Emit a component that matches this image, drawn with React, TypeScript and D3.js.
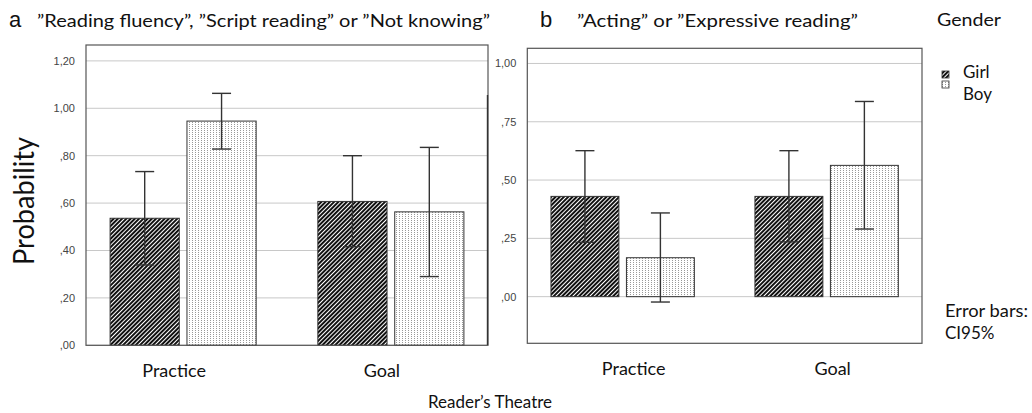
import React from "react";
import { scaleLinear, scaleBand, format } from "d3";

const categories = ["Practice", "Goal"];
const genders = ["Girl", "Boy"];

// panel a: "Reading fluency", "Script reading" or "Not knowing"
const aGirl = [0.536, 0.607];
const aBoy = [0.946, 0.563];
const aGirlLow = [0.339, 0.416];
const aGirlHigh = [0.733, 0.8];
const aBoyLow = [0.828, 0.29];
const aBoyHigh = [1.063, 0.835];
const aTicks = [0, 0.2, 0.4, 0.6, 0.8, 1.0, 1.2];

// panel b: "Acting" or "Expressive reading"
const bGirl = [0.43, 0.43];
const bBoy = [0.167, 0.563];
const bGirlLow = [0.233, 0.235];
const bGirlHigh = [0.626, 0.626];
const bBoyLow = [-0.023, 0.29];
const bBoyHigh = [0.359, 0.837];
const bTicks = [0, 0.25, 0.5, 0.75, 1.0];

const FONT = "Lato, 'Open Sans', sans-serif";
const f2 = format(".2f");
const tickLabel = (v) => f2(v).replace(/^0\./, ".").replace(".", ",");

function Panel({ left, right, top, bottom, domain, ticks, girl, boy, girlLow, girlHigh, boyLow, boyHigh, labelShift, labelY }) {
  const y = scaleLinear().domain(domain).range([bottom, top]);
  const x = scaleBand().domain(categories).range([left, right]).paddingInner(0.297).paddingOuter(0.116);
  const xg = scaleBand().domain(genders).range([0, x.bandwidth()]).paddingInner(0.1);
  const rows = categories.map((c, i) => [
    { c, g: "Girl", v: girl[i], lo: girlLow[i], hi: girlHigh[i] },
    { c, g: "Boy", v: boy[i], lo: boyLow[i], hi: boyHigh[i] },
  ]).flat();
  return (
    <g>
      {ticks.map((t) => (
        <g key={t}>
          <line x1={left} x2={right} y1={y(t)} y2={y(t)} stroke="#c8c8c8" strokeWidth={1} />
          <text x={left - 11} y={y(t) + 4} textAnchor="end" fontSize={11} fill="#444" fontFamily="'Liberation Sans', Arial, sans-serif">{tickLabel(t)}</text>
        </g>
      ))}
      {rows.map((r) => {
        const bx = x(r.c) + xg(r.g);
        const cx = bx + xg.bandwidth() / 2;
        return (
          <g key={r.c + r.g}>
            <rect x={bx} y={y(r.v)} width={xg.bandwidth()} height={y(0) - y(r.v)}
              fill={r.g === "Girl" ? "url(#hatch)" : "url(#dots)"} stroke="#333" strokeWidth={1} />
            <line x1={cx} x2={cx} y1={y(r.hi)} y2={y(r.lo)} stroke="#333" strokeWidth={1.4} />
            <line x1={cx - 9.5} x2={cx + 9.5} y1={y(r.hi)} y2={y(r.hi)} stroke="#333" strokeWidth={1.4} />
            <line x1={cx - 9.5} x2={cx + 9.5} y1={y(r.lo)} y2={y(r.lo)} stroke="#333" strokeWidth={1.4} />
          </g>
        );
      })}
      <rect x={left} y={top} width={right - left} height={bottom - top} fill="none" stroke="#555" strokeWidth={1.2} />
      {categories.map((c, i) => (
        <text key={c} x={x(c) + x.bandwidth() / 2 + labelShift[i]} y={labelY}
          textAnchor="middle" fontSize={18} fontFamily={FONT} fill="#111">{c}</text>
      ))}
    </g>
  );
}

export default function App() {
  return (
    <svg width={1032} height={413} style={{ position: "absolute", left: 0, top: 0, background: "#fff" }}>
      <defs>
        <pattern id="hatch" width={3} height={3} patternUnits="userSpaceOnUse" patternTransform="rotate(45)">
          <rect width={3} height={3} fill="#fff" />
          <rect width={2} height={3} fill="#111" />
        </pattern>
        <pattern id="dots" width={3} height={2} patternUnits="userSpaceOnUse">
          <rect width={3} height={2} fill="#fff" />
          <rect width={1} height={1} fill="#999" />
        </pattern>
      </defs>
      <rect width={1032} height={413} fill="#fff" />

      <Panel left={86} right={488} top={45} bottom={345.3} domain={[0, 1.267]} ticks={aTicks}
        girl={aGirl} boy={aBoy} girlLow={aGirlLow} girlHigh={aGirlHigh} boyLow={aBoyLow} boyHigh={aBoyHigh}
        labelShift={[-9, -9]} labelY={377} />
      <line x1={487.5} x2={487.5} y1={95} y2={345} stroke="#333" strokeWidth={1.4} />
      <Panel left={527.3} right={922} top={48.3} bottom={343.3} domain={[-0.2, 1.065]} ticks={bTicks}
        girl={bGirl} boy={bBoy} girlLow={bGirlLow} girlHigh={bGirlHigh} boyLow={bBoyLow} boyHigh={bBoyHigh}
        labelShift={[11, 6]} labelY={375} />

      <text x={9} y={27} fontSize={22} fontFamily="'Liberation Sans', Arial, sans-serif" fill="#111">a</text>
      <text x={37} y={27} fontSize={18} fontFamily={FONT} fill="#111" textLength={453} lengthAdjust="spacingAndGlyphs">
        ”Reading fluency”, ”Script reading” or ”Not knowing”
      </text>
      <text x={540} y={27} fontSize={22} fontFamily="'Liberation Sans', Arial, sans-serif" fill="#111">b</text>
      <text x={577} y={27} fontSize={18} fontFamily={FONT} fill="#111" textLength={281} lengthAdjust="spacingAndGlyphs">
        ”Acting” or ”Expressive reading”
      </text>

      <text x={937} y={26} fontSize={18} fontFamily={FONT} fill="#111" textLength={64} lengthAdjust="spacingAndGlyphs">Gender</text>
      <rect x={942} y={71} width={7} height={7} fill="url(#hatch)" stroke="#333" strokeWidth={0.8} />
      <rect x={942} y={81} width={7} height={7} fill="url(#dots)" stroke="#333" strokeWidth={0.8} />
      {genders.map((g, i) => (
        <text key={g} x={963} y={78 + i * 22} fontSize={17} fontFamily={FONT} fill="#111">{g}</text>
      ))}
      <text x={945} y={317} fontSize={17} fontFamily={FONT} fill="#111" textLength={83} lengthAdjust="spacingAndGlyphs">Error bars:</text>
      <text x={945} y={339} fontSize={17} fontFamily={FONT} fill="#111">CI95%</text>

      <text transform="translate(34,201) rotate(-90)" textAnchor="middle" fontSize={28} fontFamily={FONT} fill="#111"
        textLength={128} lengthAdjust="spacingAndGlyphs">Probability</text>
      <text x={490} y={408} textAnchor="middle" fontSize={17} fontFamily={FONT} fill="#111"
        textLength={124} lengthAdjust="spacingAndGlyphs">Reader’s Theatre</text>
    </svg>
  );
}
